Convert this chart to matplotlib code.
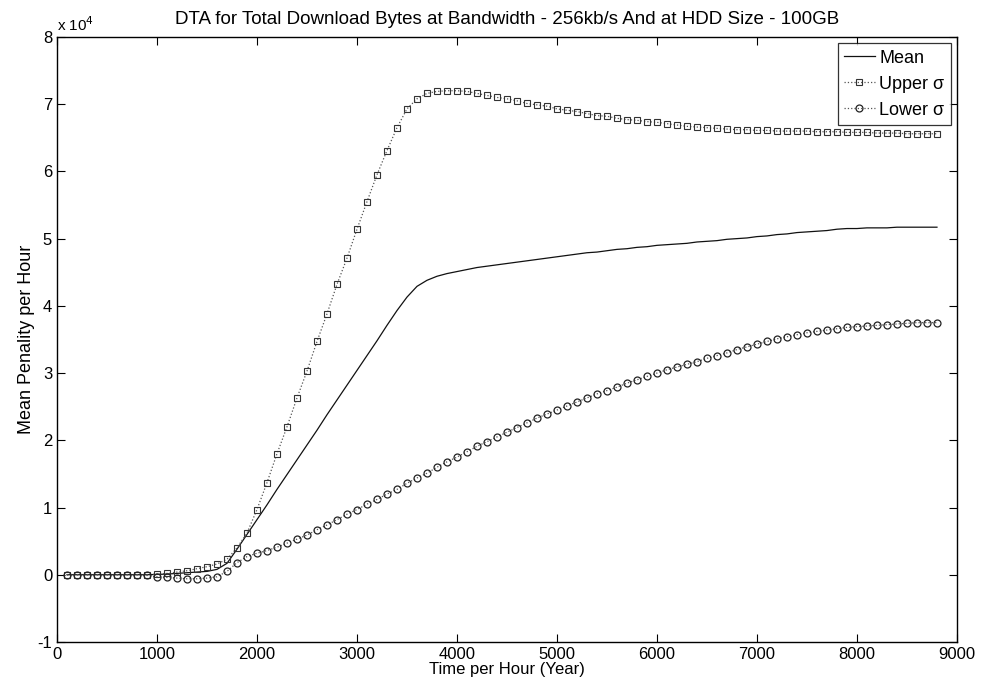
import numpy as np
import matplotlib.pyplot as plt

# hours sampled every 100 (first point at 100)
hours = list(range(100, 8900, 100))

# values in units of 1e4
mean_vals = [0, 0, 0, 0, 0, 0, 0, 0, 0, 0.005,
             0.01, 0.02, 0.03, 0.04, 0.05, 0.08, 0.17, 0.38, 0.6, 0.82,
             1.04, 1.27, 1.49, 1.71, 1.93, 2.15, 2.38, 2.6, 2.82, 3.04,
             3.26, 3.48, 3.71, 3.93, 4.13, 4.29, 4.38, 4.44, 4.48, 4.51,
             4.54, 4.57, 4.59, 4.61, 4.63, 4.65, 4.67, 4.69, 4.71, 4.73,
             4.75, 4.77, 4.79, 4.8, 4.82, 4.84, 4.85, 4.87, 4.88, 4.9,
             4.91, 4.92, 4.93, 4.95, 4.96, 4.97, 4.99, 5.0, 5.01, 5.03,
             5.04, 5.06, 5.07, 5.09, 5.1, 5.11, 5.12, 5.14, 5.15, 5.15,
             5.16, 5.16, 5.16, 5.17, 5.17, 5.17, 5.17, 5.17]

upper_vals = [0, 0, 0, 0, 0, 0, 0, 0, 0, 0.01,
              0.02, 0.04, 0.06, 0.09, 0.12, 0.16, 0.23, 0.4, 0.62, 0.97,
              1.37, 1.8, 2.2, 2.63, 3.03, 3.47, 3.88, 4.32, 4.71, 5.14,
              5.55, 5.95, 6.31, 6.65, 6.93, 7.08, 7.16, 7.19, 7.2, 7.2,
              7.19, 7.16, 7.13, 7.1, 7.08, 7.05, 7.01, 6.99, 6.97, 6.93,
              6.91, 6.89, 6.86, 6.83, 6.82, 6.79, 6.77, 6.76, 6.74, 6.73,
              6.71, 6.69, 6.67, 6.66, 6.65, 6.64, 6.63, 6.62, 6.62, 6.61,
              6.61, 6.6, 6.6, 6.6, 6.6, 6.59, 6.59, 6.59, 6.58, 6.58,
              6.58, 6.57, 6.57, 6.57, 6.56, 6.56, 6.56, 6.56]

lower_vals = [0, 0, 0, 0, 0, 0, 0, 0, -0.01, -0.03,
              -0.04, -0.05, -0.06, -0.06, -0.05, -0.03, 0.05, 0.18, 0.27, 0.32,
              0.36, 0.41, 0.47, 0.53, 0.59, 0.67, 0.74, 0.82, 0.9, 0.97,
              1.05, 1.12, 1.2, 1.27, 1.36, 1.44, 1.51, 1.6, 1.68, 1.75,
              1.83, 1.91, 1.98, 2.05, 2.12, 2.19, 2.26, 2.33, 2.39, 2.45,
              2.51, 2.57, 2.63, 2.69, 2.74, 2.79, 2.85, 2.9, 2.95, 3.0,
              3.05, 3.09, 3.13, 3.17, 3.22, 3.26, 3.3, 3.35, 3.39, 3.43,
              3.47, 3.51, 3.54, 3.57, 3.6, 3.62, 3.64, 3.66, 3.68, 3.69,
              3.7, 3.71, 3.72, 3.73, 3.74, 3.75, 3.75, 3.75]

labels = ['Mean', 'Upper \u03c3', 'Lower \u03c3']
title = 'DTA for Total Download Bytes at Bandwidth - 256kb/s And at HDD Size - 100GB'

plt.rcParams['font.family'] = ['Liberation Sans', 'DejaVu Sans']
plt.rcParams['font.size'] = 12

fig = plt.figure(figsize=(9.81, 6.88), dpi=100)
ax = fig.add_axes([0.0581, 0.0669, 0.9174, 0.8794])

x = np.array(hours)
ax.plot(x, np.array(mean_vals) * 1e4, '-', color='#111111', lw=0.9, label=labels[0])
ax.plot(x, np.array(upper_vals) * 1e4, ':', color='#555555', lw=0.9,
        marker='s', ms=4, mfc='none', mec='#333333', mew=0.8, label=labels[1])
ax.plot(x, np.array(lower_vals) * 1e4, ':', color='#555555', lw=0.9,
        marker='o', ms=5, mfc='none', mec='#222222', mew=0.9, label=labels[2])

ax.set_xlim(0, 9000)
ax.set_ylim(-1e4, 8e4)
ax.set_xticks(range(0, 10000, 1000))
yt = np.arange(-1, 9)
ax.set_yticks(yt * 1e4)
ax.set_yticklabels([str(v) for v in yt])
ax.tick_params(direction='in', top=True, right=True, length=6, labelsize=12, width=0.8)
for s in ax.spines.values():
    s.set_linewidth(1.0)
# MATLAB style exponent label
ax.text(0.0, 1.005, 'x 10$^{4}$', transform=ax.transAxes, fontsize=11,
        ha='left', va='bottom')

ax.set_title(title, fontsize=13.5, pad=9)
ax.set_xlabel('Time per Hour (Year)', fontsize=12, labelpad=0)
ax.set_ylabel('Mean Penality per Hour', fontsize=13, labelpad=2)

leg = ax.legend(loc='upper right', fontsize=13, frameon=True, fancybox=False,
                edgecolor='black', borderpad=0.35, handlelength=1.7,
                handletextpad=0.25, labelspacing=0.5, borderaxespad=0.35)
leg.get_frame().set_linewidth(0.9)

fig.savefig('out.png', dpi=100)
